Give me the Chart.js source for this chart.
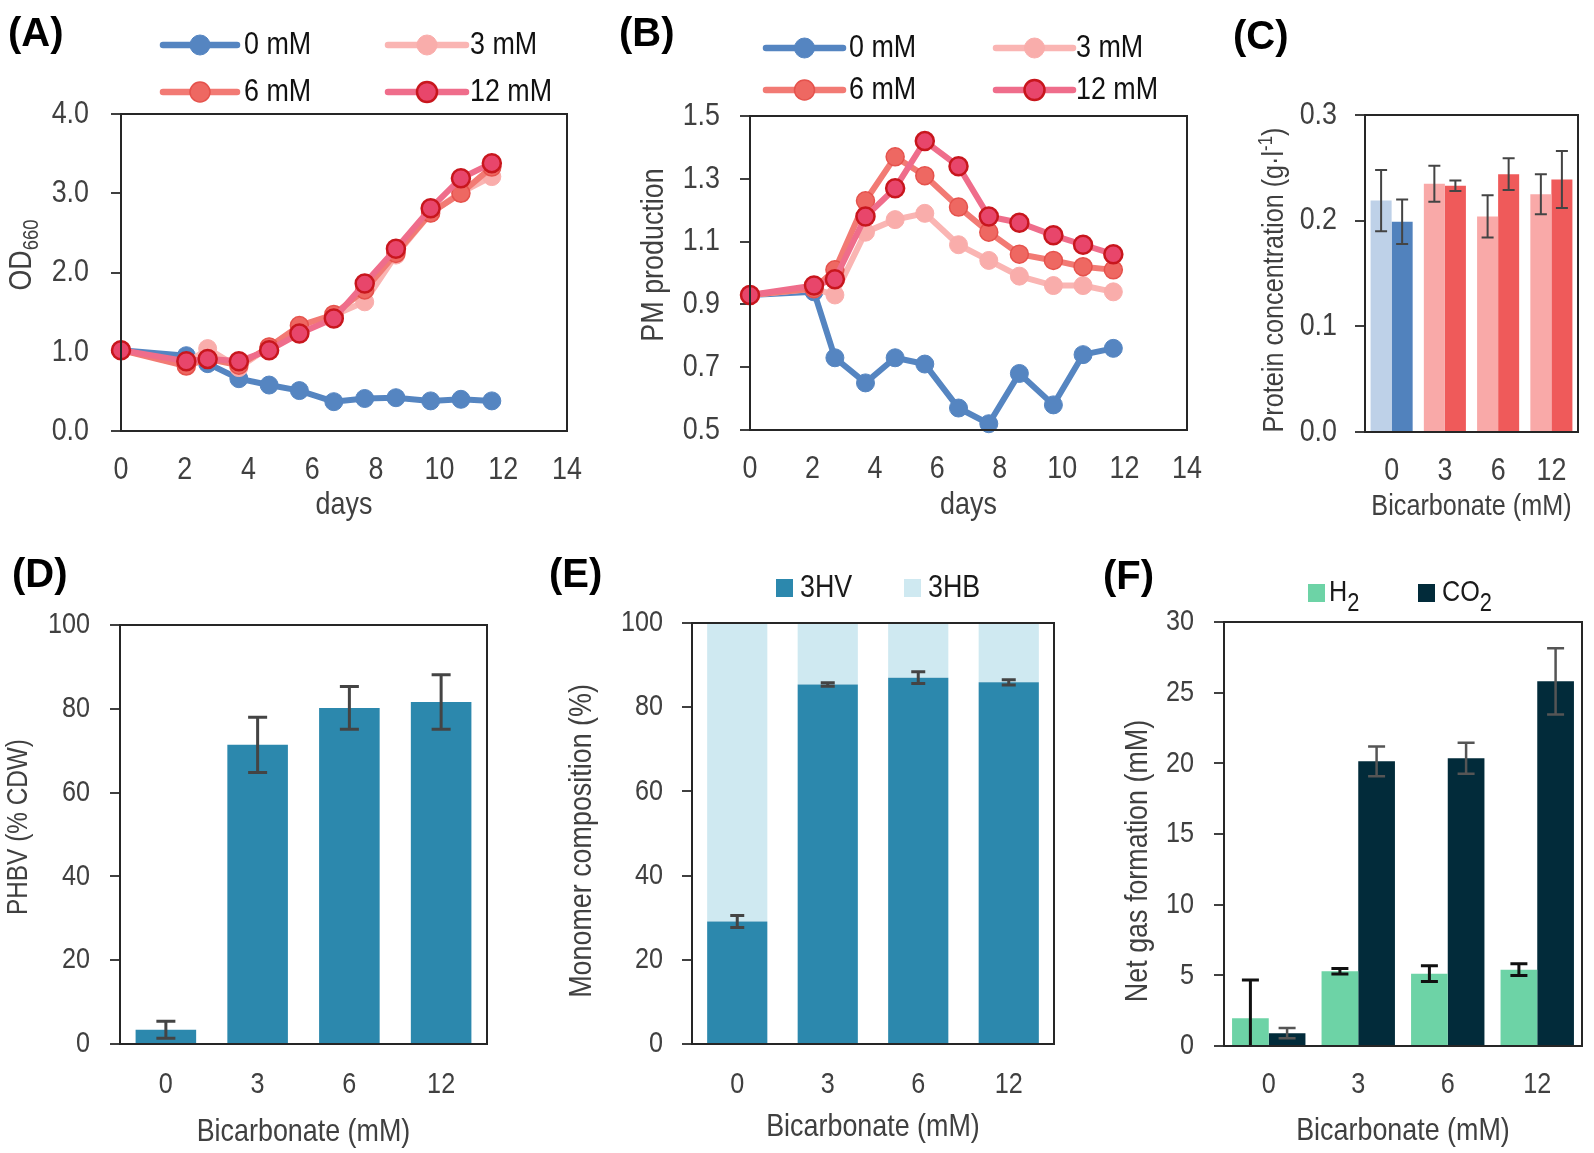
<!DOCTYPE html>
<html>
<head>
<meta charset="utf-8">
<script src="https://cdn.jsdelivr.net/npm/chart.js@4.4.1/dist/chart.umd.min.js"></script>
<style>
  body { margin: 0; background: #fff; }
  #fig { position: relative; width: 1594px; height: 1153px; background: #fff; overflow: hidden; }
  canvas { position: absolute; }
</style>
</head>
<body>
<div id="fig">
  <canvas id="cA" width="620" height="530" style="left:0;top:0"></canvas>
  <canvas id="cB" width="640" height="530" style="left:600px;top:0"></canvas>
  <canvas id="cC" width="379" height="530" style="left:1215px;top:0"></canvas>
  <canvas id="cD" width="520" height="613" style="left:0;top:540px"></canvas>
  <canvas id="cE" width="540" height="613" style="left:530px;top:540px"></canvas>
  <canvas id="cF" width="524" height="613" style="left:1070px;top:540px"></canvas>
</div>
<script>
// ---- data ----
const days = [0, 2.05, 2.72, 3.7, 4.65, 5.6, 6.68, 7.65, 8.63, 9.72, 10.67, 11.64];
const concLabels = ['0 mM', '3 mM', '6 mM', '12 mM'];

const od0  = [1.02, 0.95, 0.85, 0.66, 0.58, 0.51, 0.37, 0.41, 0.42, 0.38, 0.40, 0.38];
const od3  = [1.02, 0.85, 1.04, 0.80, 1.06, 1.31, 1.46, 1.63, 2.22, 2.75, 3.01, 3.21];
const od6  = [1.02, 0.82, 0.91, 0.83, 1.06, 1.33, 1.47, 1.78, 2.24, 2.75, 3.00, 3.33];
const od12 = [1.02, 0.88, 0.91, 0.88, 1.02, 1.23, 1.42, 1.86, 2.30, 2.81, 3.19, 3.38];

const pm0  = [0.93, 0.94, 0.73, 0.65, 0.73, 0.71, 0.57, 0.52, 0.68, 0.58, 0.74, 0.76];
const pm3  = [0.93, 0.95, 0.93, 1.13, 1.17, 1.19, 1.09, 1.04, 0.99, 0.96, 0.96, 0.94];
const pm6  = [0.93, 0.95, 1.01, 1.23, 1.37, 1.31, 1.21, 1.13, 1.06, 1.04, 1.02, 1.01];
const pm12 = [0.93, 0.96, 0.98, 1.18, 1.27, 1.42, 1.34, 1.18, 1.16, 1.12, 1.09, 1.06];

const bicarb = ['0', '3', '6', '12'];

const protLight    = [0.219, 0.235, 0.204, 0.225];
const protLightErr = [0.029, 0.017, 0.020, 0.019];
const protDark     = [0.199, 0.233, 0.244, 0.239];
const protDarkErr  = [0.021, 0.005, 0.015, 0.027];

const phbv    = [3.4, 71.4, 80.2, 81.6];
const phbvErr = [2.0, 6.6, 5.1, 6.5];

const hv    = [29.1, 85.4, 87.0, 85.9];
const hvErr = [1.4, 0.4, 1.4, 0.6];
const hb    = [70.9, 14.6, 13.0, 14.1];

const h2     = [1.97, 5.29, 5.12, 5.40];
const h2Err  = [2.7, 0.2, 0.55, 0.42];
const co2    = [0.91, 20.14, 20.36, 25.8];
const co2Err = [0.37, 1.05, 1.1, 2.35];

// ---- shared look ----
const FF = "'Liberation Sans', Arial, sans-serif";
const NARROW = 0.84;   // the figure uses a narrow sans; squeeze regular text to match
const AXIS = '#262626', TXT = '#404040';

// narrow every non-bold text draw (Chart.js labels included)
const nativeFill = CanvasRenderingContext2D.prototype.fillText;
CanvasRenderingContext2D.prototype.fillText = function (t, x, y, mw) {
  if (/bold/.test(this.font)) return nativeFill.call(this, t, x, y, mw);
  const w = this.measureText(t).width * NARROW;
  return nativeFill.call(this, t, x, y, mw === undefined ? w : Math.min(mw, w));
};

Chart.defaults.font.family = FF;
Chart.defaults.color = TXT;
Chart.defaults.animation = false;
Chart.defaults.responsive = false;
Chart.defaults.devicePixelRatio = 1;
Chart.defaults.plugins.legend.display = false;
Chart.defaults.plugins.tooltip.enabled = false;

function richText(ctx, segs, x, y, size, o = {}) {
  const w = o.weight || 'normal', fam = o.family || FF;
  const squeeze = w === 'bold' ? 1 : NARROW;
  const small = o.small || 0.68, drop = o.drop || 0.3;
  const fnt = k => `${w} ${k ? Math.round(size * small) : size}px ${fam}`;
  ctx.save();
  ctx.fillStyle = o.color || TXT;
  ctx.textBaseline = 'middle';
  ctx.textAlign = 'left';
  let total = 0;
  segs.forEach(([t, k]) => { ctx.font = fnt(k); total += ctx.measureText(t).width * squeeze; });
  ctx.translate(x, y);
  if (o.rot) ctx.rotate(o.rot);
  let cx = o.align === 'center' ? -total / 2 : 0;
  segs.forEach(([t, k]) => {
    ctx.font = fnt(k);
    const dy = k === 'sub' ? size * drop : k === 'sup' ? -size * 0.3 : 0;
    ctx.fillText(t, cx, dy);
    cx += ctx.measureText(t).width * squeeze;
  });
  ctx.restore();
}

function lineKey(ctx, ds, x1, x2, y) {
  ctx.save();
  ctx.strokeStyle = ds.borderColor; ctx.lineWidth = 6.5; ctx.lineCap = 'round';
  ctx.beginPath(); ctx.moveTo(x1, y); ctx.lineTo(x2, y); ctx.stroke();
  ctx.beginPath(); ctx.arc((x1 + x2) / 2, y, 10, 0, Math.PI * 2);
  ctx.fillStyle = ds.pointBackgroundColor; ctx.fill();
  ctx.lineWidth = ds.pointBorderWidth; ctx.strokeStyle = ds.pointBorderColor; ctx.stroke();
  ctx.restore();
}

function boxKey(ctx, color, x, y, w, h) {
  ctx.save(); ctx.fillStyle = color; ctx.fillRect(x, y, w, h); ctx.restore();
}

const frame = {
  id: 'frame',
  afterDraw(chart) {
    const { ctx, chartArea: a } = chart;
    ctx.save();
    ctx.strokeStyle = AXIS; ctx.lineWidth = 2;
    ctx.strokeRect(a.left, a.top, a.right - a.left, a.bottom - a.top);
    ctx.restore();
  }
};

const errorBars = {
  id: 'errorBars',
  afterDatasetsDraw(chart) {
    const { ctx, chartArea: a } = chart;
    const y = chart.scales.y;
    chart.data.datasets.forEach((ds, i) => {
      if (!ds.errors) return;
      const meta = chart.getDatasetMeta(i);
      ctx.save();
      ctx.beginPath(); ctx.rect(a.left, a.top - 2, a.right - a.left, a.bottom - a.top + 1); ctx.clip();
      ctx.strokeStyle = ds.errColor; ctx.lineWidth = ds.errWidth;
      meta.data.forEach((bar, j) => {
        const v = ds.data[j], e = ds.errors[j];
        const t = y.getPixelForValue(v + e), b = y.getPixelForValue(v - e), h = ds.capWidth / 2;
        ctx.beginPath();
        ctx.moveTo(bar.x, t); ctx.lineTo(bar.x, b);
        ctx.moveTo(bar.x - h, t); ctx.lineTo(bar.x + h, t);
        ctx.moveTo(bar.x - h, b); ctx.lineTo(bar.x + h, b);
        ctx.stroke();
      });
      ctx.restore();
    });
  }
};

function yAxis(min, max, step, width, pad, size, fmt) {
  return {
    min, max,
    ticks: { stepSize: step, padding: pad, font: { size }, callback: fmt },
    grid: { drawOnChartArea: false, tickLength: 10, color: TXT, lineWidth: 2 },
    border: { display: false },
    afterFit: s => { s.width = width; }
  };
}
function xAxis(type, height, pad, size, title, titlePad, titleSize) {
  const ax = {
    type,
    ticks: { padding: pad, font: { size }, maxRotation: 0, autoSkip: false },
    grid: { display: false, drawTicks: false },
    border: { display: false },
    title: { display: true, text: title, font: { size: titleSize }, padding: { top: 0, bottom: titlePad } },
    afterFit: s => { s.height = height; }
  };
  if (type === 'linear') { ax.min = 0; ax.max = 14; ax.ticks.stepSize = 2; }
  return ax;
}

function series(label, ys, line, fill, edge, edgeW, order) {
  return {
    label, order, clip: false,
    data: days.map((d, i) => ({ x: d, y: ys[i] })),
    borderColor: line, backgroundColor: fill, borderWidth: 6, tension: 0,
    pointRadius: 9, pointBackgroundColor: fill, pointBorderColor: edge, pointBorderWidth: edgeW
  };
}
function curveSet(v0, v3, v6, v12) {
  return [
    series(concLabels[0], v0, '#5585C1', '#5585C1', '#5585C1', 1, 3),
    series(concLabels[1], v3, '#FAB5B3', '#F9ADAB', '#F9ADAB', 1, 2),
    series(concLabels[2], v6, '#F27A74', '#EE6862', '#E5524C', 1.5, 1),
    series(concLabels[3], v12, '#EF6D8B', '#E8466B', '#C8161D', 2.5, 0)
  ];
}

const BOLD = "'Liberation Sans', Arial, sans-serif";

function linePanel(id, letter, sets, yOpts, yTitle, geo) {
  const deco = {
    id: 'deco' + id,
    afterDraw(chart) {
      const ctx = chart.ctx, ds = chart.data.datasets;
      richText(ctx, [[letter]], geo.letter[0], geo.letter[1], 40, { weight: 'bold', family: BOLD, color: '#000' });
      ds.forEach((d, i) => {
        const col = geo.cols[i % 2], row = geo.rows[Math.floor(i / 2)];
        lineKey(ctx, d, col[0], col[1], row);
        richText(ctx, [[d.label]], col[2], row, 32, { color: '#111' });
      });
      richText(ctx, yTitle, geo.yTitle[0], geo.yTitle[1], 32, { rot: -Math.PI / 2, align: 'center' });
    }
  };
  new Chart(document.getElementById(id), {
    type: 'line',
    data: { datasets: sets },
    options: {
      layout: { padding: { left: 0, top: geo.top, right: geo.right, bottom: 0 } },
      scales: {
        x: xAxis('linear', geo.xh, 20, 32, 'days', 6, 32),
        y: yOpts
      }
    },
    plugins: [frame, deco]
  });
}

// (A) OD660
linePanel('cA', '(A)', curveSet(od0, od3, od6, od12),
  yAxis(0, 4, 1, 121, 22, 32, v => v.toFixed(1)),
  [['OD'], ['660', 'sub']],
  { top: 114, right: 53, xh: 99, letter: [8, 35],
    cols: [[163, 237, 244], [388, 466, 470]], rows: [45, 92], yTitle: [22, 255] });

// (B) PM production
linePanel('cB', '(B)', curveSet(pm0, pm3, pm6, pm12),
  yAxis(0.5, 1.5, 0.2, 150, 20, 32, v => v.toFixed(1)),
  [['PM production']],
  { top: 116, right: 53, xh: 100, letter: [19, 35],
    cols: [[166, 243, 249], [396, 473, 476]], rows: [48, 90], yTitle: [54, 255] });

// (C) protein concentration
new Chart(document.getElementById('cC'), {
  type: 'bar',
  data: {
    labels: bicarb,
    datasets: [
      { label: 'light', data: protLight, errors: protLightErr,
        backgroundColor: ['#BED1E8', '#F9A9A8', '#F9A9A8', '#F9A9A8'],
        errColor: '#444', errWidth: 2, capWidth: 12,
        categoryPercentage: 0.79, barPercentage: 1 },
      { label: 'dark', data: protDark, errors: protDarkErr,
        backgroundColor: ['#5182BD', '#EF5A5A', '#EF5A5A', '#EF5A5A'],
        errColor: '#444', errWidth: 2, capWidth: 12,
        categoryPercentage: 0.79, barPercentage: 1 }
    ]
  },
  options: {
    layout: { padding: { left: 0, top: 115, right: 16, bottom: 0 } },
    scales: {
      x: xAxis('category', 98, 20, 32, 'Bicarbonate (mM)', 5, 30),
      y: yAxis(0, 0.3, 0.1, 150, 18, 32, v => v.toFixed(1))
    }
  },
  plugins: [frame, errorBars, {
    id: 'decoC',
    afterDraw(chart) {
      const ctx = chart.ctx;
      richText(ctx, [['(C)']], 18, 38, 40, { weight: 'bold', family: BOLD, color: '#000' });
      richText(ctx, [['Protein concentration (g·l'], ['-1', 'sup'], [')']], 60, 280, 30, { rot: -Math.PI / 2, align: 'center' });
    }
  }]
});

// (D) PHBV content
new Chart(document.getElementById('cD'), {
  type: 'bar',
  data: {
    labels: bicarb,
    datasets: [
      { label: 'PHBV', data: phbv, errors: phbvErr, backgroundColor: '#2C88AD',
        errColor: '#444', errWidth: 3, capWidth: 19, barPercentage: 0.66, categoryPercentage: 1 }
    ]
  },
  options: {
    layout: { padding: { left: 0, top: 85, right: 33, bottom: 0 } },
    scales: {
      x: xAxis('category', 109, 23, 30, 'Bicarbonate (mM)', 2, 32),
      y: yAxis(0, 100, 20, 120, 20, 30, v => v)
    }
  },
  plugins: [frame, errorBars, {
    id: 'decoD',
    afterDraw(chart) {
      const ctx = chart.ctx;
      richText(ctx, [['(D)']], 12, 36, 40, { weight: 'bold', family: BOLD, color: '#000' });
      richText(ctx, [['PHBV (% CDW)']], 19, 287, 29, { rot: -Math.PI / 2, align: 'center' });
    }
  }]
});

// (E) monomer composition
new Chart(document.getElementById('cE'), {
  type: 'bar',
  data: {
    labels: bicarb,
    datasets: [
      { label: '3HV', data: hv, errors: hvErr, backgroundColor: '#2C88AD',
        errColor: '#444', errWidth: 3, capWidth: 14, barPercentage: 0.665, categoryPercentage: 1 },
      { label: '3HB', data: hb, backgroundColor: '#CFE9F1', barPercentage: 0.665, categoryPercentage: 1 }
    ]
  },
  options: {
    layout: { padding: { left: 0, top: 83, right: 16, bottom: 0 } },
    scales: {
      x: Object.assign(xAxis('category', 109, 23, 30, 'Bicarbonate (mM)', 7, 32), { stacked: true }),
      y: Object.assign(yAxis(0, 100, 20, 162, 19, 30, v => v), { stacked: true })
    }
  },
  plugins: [frame, errorBars, {
    id: 'decoE',
    afterDraw(chart) {
      const ctx = chart.ctx, ds = chart.data.datasets;
      richText(ctx, [['(E)']], 19, 36, 40, { weight: 'bold', family: BOLD, color: '#000' });
      const keys = [[246, 270], [374, 398]];
      ds.forEach((d, i) => {
        boxKey(ctx, d.backgroundColor, keys[i][0], 39, 17, 18);
        richText(ctx, [[d.label]], keys[i][1], 48, 32, { color: '#1a1a1a' });
      });
      richText(ctx, [['Monomer composition (%)']], 52, 301, 32, { rot: -Math.PI / 2, align: 'center' });
    }
  }]
});

// (F) net gas formation
new Chart(document.getElementById('cF'), {
  type: 'bar',
  data: {
    labels: bicarb,
    datasets: [
      { label: 'H₂', data: h2, errors: h2Err, backgroundColor: '#6DD3A6',
        errColor: '#111', errWidth: 3, capWidth: 17, categoryPercentage: 0.82, barPercentage: 1 },
      { label: 'CO₂', data: co2, errors: co2Err, backgroundColor: '#022B3A',
        errColor: '#555', errWidth: 2.5, capWidth: 17, categoryPercentage: 0.82, barPercentage: 1 }
    ]
  },
  options: {
    layout: { padding: { left: 0, top: 82, right: 12, bottom: 0 } },
    scales: {
      x: xAxis('category', 107, 21, 30, 'Bicarbonate (mM)', 3, 32),
      y: yAxis(0, 30, 5, 154, 20, 30, v => v)
    }
  },
  plugins: [frame, errorBars, {
    id: 'decoF',
    afterDraw(chart) {
      const ctx = chart.ctx, ds = chart.data.datasets;
      richText(ctx, [['(F)']], 33, 38, 40, { weight: 'bold', family: BOLD, color: '#000' });
      const keys = [[238, 259, [['H'], ['2', 'sub']]], [348, 372, [['CO'], ['2', 'sub']]]];
      ds.forEach((d, i) => {
        boxKey(ctx, d.backgroundColor, keys[i][0], 44, 17, 18);
        richText(ctx, keys[i][2], keys[i][1], 53, 30, { color: '#1a1a1a', small: 0.85, drop: 0.35 });
      });
      richText(ctx, [['Net gas formation (mM)']], 68, 321, 32, { rot: -Math.PI / 2, align: 'center' });
    }
  }]
});
</script>
</body>
</html>
